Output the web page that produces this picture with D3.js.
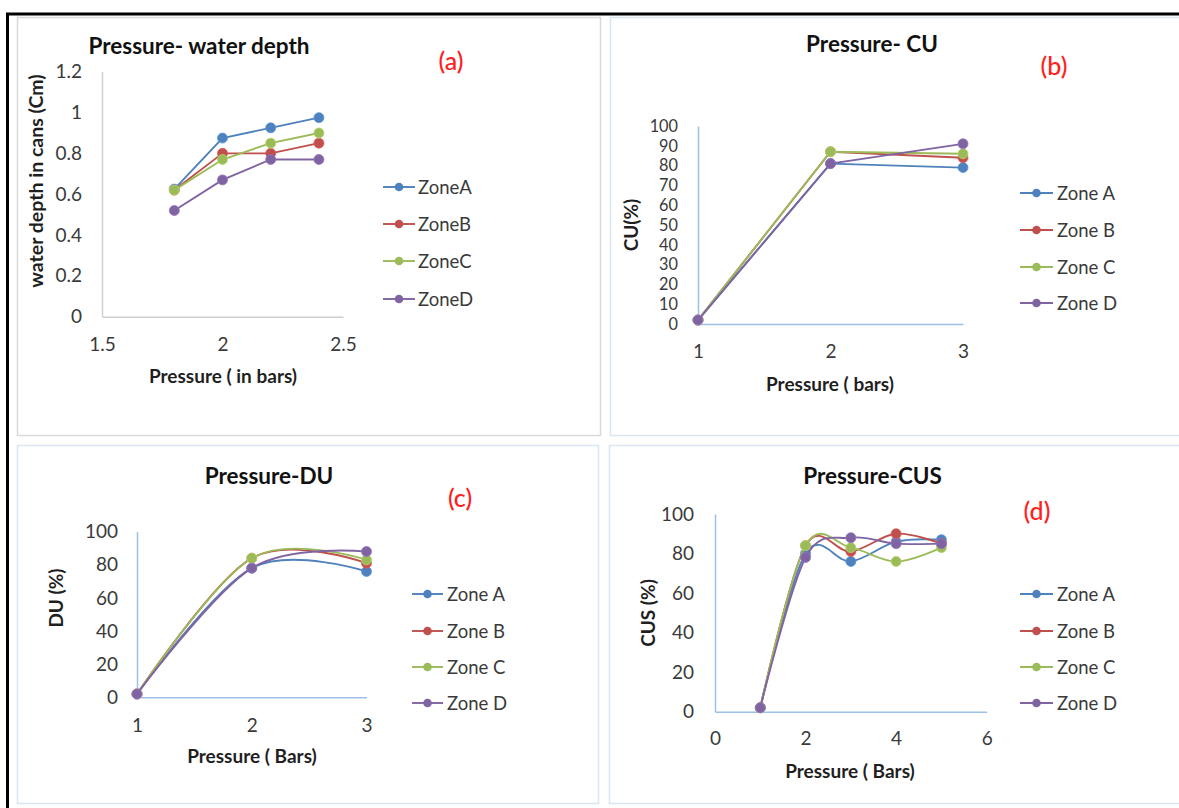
<!DOCTYPE html>
<html>
<head>
<meta charset="utf-8">
<script src="https://cdn.jsdelivr.net/npm/d3@7"></script>
<style>
  html, body { margin: 0; padding: 0; background: #fff; }
  svg { display: block; font-family: Lato, "Open Sans", sans-serif; }
</style>
</head>
<body>
<svg id="chart" width="1179" height="808"></svg>
<script>
// ---------------- DATA ----------------
const zoneNamesA = ["ZoneA", "ZoneB", "ZoneC", "ZoneD"];
const zoneNames = ["Zone A", "Zone B", "Zone C", "Zone D"];

// (a) Pressure - water depth
const pressureA = [1.8, 2.0, 2.2, 2.4];
const depthZoneA = [0.625, 0.875, 0.925, 0.975];
const depthZoneB = [0.62, 0.80, 0.80, 0.85];
const depthZoneC = [0.62, 0.77, 0.85, 0.90];
const depthZoneD = [0.52, 0.67, 0.77, 0.77];
const depthXTicks = [1.5, 2, 2.5];
const depthYTicks = [0, 0.2, 0.4, 0.6, 0.8, 1, 1.2];

// (b) Pressure - CU
const pressureB = [1, 2, 3];
const cuZoneA = [2, 81, 79];
const cuZoneB = [2, 87, 84];
const cuZoneC = [2, 87, 86];
const cuZoneD = [2, 81, 91];
const cuXTicks = [1, 2, 3];
const cuYTicks = [0, 10, 20, 30, 40, 50, 60, 70, 80, 90, 100];

// (c) Pressure - DU
const pressureC = [1, 2, 3];
const duZoneA = [2, 78, 76];
const duZoneB = [2, 84, 81];
const duZoneC = [2, 84, 83];
const duZoneD = [2, 78, 88];
const duXTicks = [1, 2, 3];
const duYTicks = [0, 20, 40, 60, 80, 100];

// (d) Pressure - CUS
const pressureD = [1, 2, 3, 4, 5];
const cusZoneA = [2, 80, 76, 86, 87];
const cusZoneB = [2, 84, 81, 90, 85];
const cusZoneC = [2, 84, 83, 76, 83];
const cusZoneD = [2, 78, 88, 85, 85];
const cusXTicks = [0, 2, 4, 6];
const cusYTicks = [0, 20, 40, 60, 80, 100];

const zoneColors = ["#4F81BD", "#C0504D", "#9BBB59", "#8064A2"];

// ---------------- DRAW ----------------
const svg = d3.select("#chart");

// outer black frame (top + left)
svg.append("line").attr("x1", 6).attr("x2", 1179).attr("y1", 14).attr("y2", 14)
  .attr("stroke", "#000").attr("stroke-width", 3);
svg.append("line").attr("x1", 7.5).attr("x2", 7.5).attr("y1", 13).attr("y2", 808)
  .attr("stroke", "#000").attr("stroke-width", 3);

function drawPanel(p) {
  const g = svg.append("g");
  // panel border
  g.append("rect").attr("x", p.box[0] + 0.5).attr("y", p.box[1] + 0.5)
    .attr("width", p.box[2] - p.box[0]).attr("height", p.box[3] - p.box[1])
    .attr("fill", "#fff").attr("stroke", p.borderColor).attr("stroke-width", 1.5);

  const x = d3.scaleLinear().domain(p.xDomain).range([p.left, p.right]);
  const y = d3.scaleLinear().domain(p.yDomain).range([p.bottom, p.top]);

  const fmt = d => String(+d.toFixed(2));

  const yAxis = g.append("g").attr("transform", `translate(${p.left},0)`)
    .call(d3.axisLeft(y).tickValues(p.yTicks).tickSize(0).tickPadding(p.yPad).tickFormat(fmt));
  const xAxis = g.append("g").attr("transform", `translate(0,${p.bottom})`)
    .call(d3.axisBottom(x).tickValues(p.xTicks).tickSize(0).tickPadding(p.xPad).tickFormat(fmt));
  [xAxis, yAxis].forEach(a => {
    a.select(".domain").attr("stroke", p.axisColor).attr("stroke-width", 1.5);
    a.selectAll("text").attr("font-size", 19).attr("fill", "#3a3a3a")
      .attr("font-family", "Lato, sans-serif");
  });
  if (p.yTickSize) yAxis.selectAll("text").attr("font-size", p.yTickSize);

  // series
  const line = d3.line().x(d => x(d[0])).y(d => y(d[1])).curve(p.curve);
  p.series.forEach((vals, i) => {
    const pts = p.xs.map((xv, j) => [xv, vals[j]]);
    g.append("path").attr("d", line(pts)).attr("fill", "none")
      .attr("stroke", zoneColors[i]).attr("stroke-width", 1.9);
    g.selectAll(null).data(pts).enter().append("circle")
      .attr("cx", d => x(d[0])).attr("cy", d => y(d[1])).attr("r", 5)
      .attr("fill", zoneColors[i]).attr("stroke", d3.color(zoneColors[i]).brighter(0.4)).attr("stroke-width", 0.8);
  });

  // title
  g.append("text").attr("x", p.titlePos[0]).attr("y", p.titlePos[1])
    .attr("text-anchor", "middle").attr("dominant-baseline", "central")
    .attr("font-size", 22.5).attr("font-weight", "bold").attr("fill", "#111").text(p.title);
  // tag
  g.append("text").attr("x", p.tagPos[0]).attr("y", p.tagPos[1])
    .attr("text-anchor", "middle").attr("dominant-baseline", "central")
    .attr("font-size", 25).attr("font-weight", 500).attr("fill", "#FF2020").text(p.tag);
  // x title
  g.append("text").attr("x", p.xTitlePos[0]).attr("y", p.xTitlePos[1])
    .attr("text-anchor", "middle").attr("dominant-baseline", "central")
    .attr("font-size", 19).attr("font-weight", "bold").attr("fill", "#1f1f1f").text(p.xTitle);
  // y title
  g.append("text").attr("transform", `translate(${p.yTitlePos[0]},${p.yTitlePos[1]}) rotate(-90)`)
    .attr("text-anchor", "middle").attr("dominant-baseline", "central")
    .attr("font-size", p.yTitleSize || 19).attr("font-weight", "bold").attr("fill", "#1f1f1f").text(p.yTitle);

  // legend
  p.legendNames.forEach((name, i) => {
    const ly = p.legendYs[i];
    g.append("line").attr("x1", p.legendX[0]).attr("x2", p.legendX[1])
      .attr("y1", ly).attr("y2", ly).attr("stroke", zoneColors[i]).attr("stroke-width", 1.9);
    g.append("circle").attr("cx", (p.legendX[0] + p.legendX[1]) / 2).attr("cy", ly).attr("r", 4.3)
      .attr("fill", zoneColors[i]);
    g.append("text").attr("x", p.legendX[2]).attr("y", ly).attr("dominant-baseline", "central")
      .attr("font-size", 18.5).attr("fill", "#3a3a3a").text(name);
  });
}

drawPanel({
  box: [17, 17, 600, 435], borderColor: "#d9d9d9", axisColor: "#d0d0d0",
  left: 102, right: 343, top: 71.7, bottom: 316.7,
  xDomain: [1.5, 2.5], yDomain: [0, 1.2], xTicks: depthXTicks, yTicks: depthYTicks,
  yPad: 20, xPad: 21,
  xs: pressureA, series: [depthZoneA, depthZoneB, depthZoneC, depthZoneD], curve: d3.curveLinear,
  title: "Pressure- water depth", titlePos: [199, 45],
  tag: "(a)", tagPos: [451, 60],
  xTitle: "Pressure ( in bars)", xTitlePos: [223, 375],
  yTitle: "water depth in cans (Cm)", yTitlePos: [35, 181], yTitleSize: 19.5,
  legendNames: zoneNamesA, legendX: [383, 415, 418], legendYs: [187, 224, 261, 299]
});

drawPanel({
  box: [610, 17, 1195, 435], borderColor: "#dbe6f3", axisColor: "#9cc0e8",
  left: 698, right: 963, top: 126, bottom: 324,
  xDomain: [1, 3], yDomain: [0, 100], xTicks: cuXTicks, yTicks: cuYTicks,
  yPad: 20, xPad: 21, yTickSize: 16.3,
  xs: pressureB, series: [cuZoneA, cuZoneB, cuZoneC, cuZoneD], curve: d3.curveLinear,
  title: "Pressure- CU", titlePos: [872, 43],
  tag: "(b)", tagPos: [1054, 65],
  xTitle: "Pressure ( bars)", xTitlePos: [830, 383],
  yTitle: "CU(%)", yTitlePos: [630, 225],
  legendNames: zoneNames, legendX: [1020, 1053, 1057], legendYs: [193, 230, 267, 303]
});

drawPanel({
  box: [17, 445, 598, 803], borderColor: "#dbe6f3", axisColor: "#9cc0e8",
  left: 137, right: 366.5, top: 531.7, bottom: 697.3,
  xDomain: [1, 3], yDomain: [0, 100], xTicks: duXTicks, yTicks: duYTicks,
  yPad: 19, xPad: 21,
  xs: pressureC, series: [duZoneA, duZoneB, duZoneC, duZoneD], curve: d3.curveCardinal.tension(0),
  title: "Pressure-DU", titlePos: [269, 475],
  tag: "(c)", tagPos: [460, 497],
  xTitle: "Pressure ( Bars)", xTitlePos: [252, 755],
  yTitle: "DU (%)", yTitlePos: [55, 598],
  legendNames: zoneNames, legendX: [412, 443, 447], legendYs: [594, 631, 667, 703]
});

drawPanel({
  box: [609, 445, 1195, 803], borderColor: "#dbe6f3", axisColor: "#9cc0e8",
  left: 715, right: 986.7, top: 514, bottom: 711.7,
  xDomain: [0, 6], yDomain: [0, 100], xTicks: cusXTicks, yTicks: cusYTicks,
  yPad: 21, xPad: 20,
  xs: pressureD, series: [cusZoneA, cusZoneB, cusZoneC, cusZoneD], curve: d3.curveCardinal.tension(0),
  title: "Pressure-CUS", titlePos: [872.5, 475],
  tag: "(d)", tagPos: [1037, 510],
  xTitle: "Pressure ( Bars)", xTitlePos: [850, 770],
  yTitle: "CUS (%)", yTitlePos: [647, 613],
  legendNames: zoneNames, legendX: [1020, 1053, 1057], legendYs: [594, 631, 667, 703]
});
</script>
</body>
</html>
